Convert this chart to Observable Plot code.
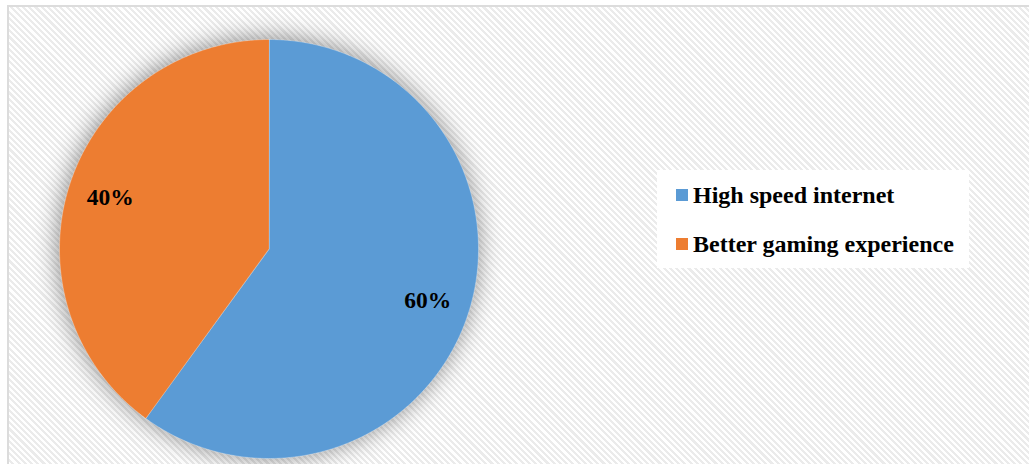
<!DOCTYPE html>
<html><head><meta charset="utf-8">
<script src="https://cdn.jsdelivr.net/npm/d3@7"></script>
<script src="https://cdn.jsdelivr.net/npm/@observablehq/plot@0.6"></script>
<style>
html,body{margin:0;padding:0;background:#fff;}
#wrap{position:relative;width:1029px;height:464px;overflow:hidden;background:#fff;}
#frame{position:absolute;left:7px;top:5px;width:1040px;height:480px;border:2px solid #dcdcdc;box-sizing:border-box;
  background:repeating-linear-gradient(45deg,#ffffff 0 2.2px,#ebebeb 2.2px 4.4px);}
#chart{position:absolute;left:0;top:0;}
#legend{position:absolute;left:657px;top:170px;width:312px;height:98px;background:#fff;
  font-family:"Liberation Serif","Times New Roman",serif;font-weight:bold;font-size:24px;color:#000;}
.item{position:absolute;left:0;white-space:nowrap;line-height:24px;}
.sw{position:absolute;width:12px;height:12px;}
.lab{position:absolute;}
</style>
</head><body>
<div id="wrap"><div id="frame"></div><div id="chart"></div><div id="legend"></div></div>
<script>
const categories = ["High speed internet", "Better gaming experience"];
const shares = [60, 40];
const colors = ["#5B9BD5", "#ED7D31"];
const labels = ["60%", "40%"];

const arcs = d3.pie().sort(null).value(d => d)(shares);
const pts = [];
arcs.forEach((a, i) => {
  const cat = categories[i];
  pts.push({x: 0, y: 0, cat});
  const n = Math.max(2, Math.ceil((a.endAngle - a.startAngle) / (Math.PI / 360)));
  for (let k = 0; k <= n; k++) {
    const t = a.startAngle + (a.endAngle - a.startAngle) * k / n;
    pts.push({x: Math.sin(t), y: Math.cos(t), cat});
  }
});
const lbl = arcs.map((a, i) => {
  const m = (a.startAngle + a.endAngle) / 2;
  return {x: 0.797 * Math.sin(m), y: 0.797 * Math.cos(m), text: labels[i]};
});

const plot = Plot.plot({
  width: 1029, height: 464, margin: 0,
  x: {domain: [-1, 1], range: [59, 478], axis: null},
  y: {domain: [-1, 1], range: [458, 39], axis: null},
  color: {domain: categories, range: colors},
  style: {background: "transparent", overflow: "visible"},
  marks: [
    Plot.line(pts, {x: "x", y: "y", z: "cat", fill: "cat", stroke: "#ffffff", strokeWidth: 0.6, strokeOpacity: 0.5, curve: "linear-closed"}),
    Plot.text(lbl, {x: "x", y: "y", text: "text", fontSize: 23.5, fontWeight: "bold", fontFamily: "Liberation Serif", fill: "#000"})
  ]
});
const g = plot.querySelector('g[aria-label="line"]');
if (g) g.style.filter = "drop-shadow(-1px -1px 12px rgba(0,0,0,0.45))";
document.getElementById("chart").appendChild(plot);

const cs = plot.scale("color");
const leg = document.getElementById("legend");
cs.domain.forEach((c, i) => {
  const it = document.createElement("div");
  it.className = "item";
  it.style.top = (13 + i * 49) + "px";
  const sw = document.createElement("div");
  sw.className = "sw";
  sw.style.left = "19px"; sw.style.top = "6px";
  sw.style.background = cs.range[i];
  const lab = document.createElement("div");
  lab.className = "lab";
  lab.style.left = "36px"; lab.style.top = "0px";
  lab.textContent = c;
  it.appendChild(sw); it.appendChild(lab);
  leg.appendChild(it);
});
</script>
</body></html>
